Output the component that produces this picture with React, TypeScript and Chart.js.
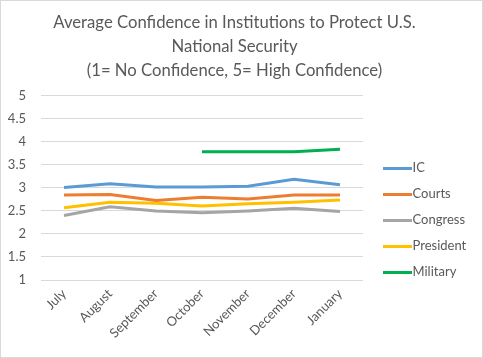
import React, { useEffect, useRef } from "react";
import { Chart, registerables } from "chart.js";

Chart.register(...registerables);

const categories = ["July", "August", "September", "October", "November", "December", "January"];
const icValues = [3.01, 3.09, 3.02, 3.02, 3.04, 3.19, 3.07];
const courtsValues = [2.85, 2.86, 2.73, 2.8, 2.76, 2.85, 2.85];
const congressValues = [2.4, 2.59, 2.5, 2.46, 2.5, 2.56, 2.49];
const presidentValues = [2.57, 2.69, 2.67, 2.61, 2.66, 2.69, 2.74];
const militaryValues = [null, null, null, 3.79, 3.79, 3.79, 3.84];
const titleLines = [
  "Average Confidence in Institutions to Protect U.S.",
  "National Security",
  "(1= No Confidence, 5= High Confidence)",
];

const FONT = "Lato, 'Open Sans', sans-serif";
const GRAY = "#595959";

function lineMarker(color: string): HTMLCanvasElement {
  const c = document.createElement("canvas");
  c.width = 60;
  c.height = 3;
  const ctx = c.getContext("2d")!;
  ctx.fillStyle = color;
  ctx.fillRect(22, 0, 29, 3);
  return c;
}

export default function App() {
  const ref = useRef<HTMLCanvasElement | null>(null);

  useEffect(() => {
    document.body.style.margin = "0";
    const canvas = ref.current;
    if (!canvas) return;
    const mk = (label: string, data: (number | null)[], color: string) => ({
      label,
      data,
      borderColor: color,
      backgroundColor: color,
      borderWidth: 3,
      pointRadius: 0,
      pointHoverRadius: 0,
      pointStyle: lineMarker(color),
      tension: 0,
      fill: false,
      spanGaps: false,
    });
    const chart = new Chart(canvas, {
      type: "line",
      data: {
        labels: categories,
        datasets: [
          mk("IC", icValues, "#5B9BD5"),
          mk("Courts", courtsValues, "#ED7D31"),
          mk("Congress", congressValues, "#A5A5A5"),
          mk("President", presidentValues, "#FFC000"),
          mk("Military", militaryValues, "#00B050"),
        ],
      },
      options: {
        responsive: false,
        animation: false,
        devicePixelRatio: 1,
        layout: { padding: { left: 0, right: 14, top: 0, bottom: 0 } },
        plugins: {
          title: {
            display: true,
            text: titleLines,
            color: GRAY,
            font: { family: FONT, size: 16.7, weight: "normal", lineHeight: 1.437 },
            padding: { top: 10, bottom: 13 },
          },
          legend: {
            position: "right",
            align: "start",
            fullSize: true,
            maxWidth: 105,
            title: {
              display: true,
              text: "",
              padding: 0,
              font: { family: FONT, size: 13, lineHeight: 147.5 / 13 },
            },
            labels: {
              usePointStyle: true,
              pointStyleWidth: 30,
              boxHeight: 13,
              color: GRAY,
              padding: 13,
              font: { family: FONT, size: 13 },
            },
          },
          tooltip: { enabled: false },
        },
        scales: {
          x: {
            offset: true,
            grid: { display: false, drawTicks: false },
            border: { display: false },
            ticks: {
              color: GRAY,
              font: { family: FONT, size: 13 },
              minRotation: 45,
              maxRotation: 45,
              padding: 6,
              autoSkip: false,
            },
            afterFit: (s: any) => {
              s.height = 77;
            },
          },
          y: {
            min: 1,
            max: 5,
            grid: { color: "#D9D9D9", drawTicks: false, lineWidth: 1 },
            border: { display: false },
            ticks: {
              stepSize: 0.5,
              color: GRAY,
              font: { family: FONT, size: 13 },
              padding: 15,
              callback: (v: any) => String(Number(v)),
            },
            afterFit: (s: any) => {
              s.width = 40;
            },
          },
        },
      },
    });
    return () => chart.destroy();
  }, []);

  return (
    <div
      style={{
        position: "absolute",
        left: 0,
        top: 0,
        width: 483,
        height: 358,
        boxSizing: "border-box",
        border: "1px solid #D9D9D9",
        background: "#fff",
      }}
    >
      <canvas ref={ref} width={481} height={356} style={{ display: "block" }} />
    </div>
  );
}
